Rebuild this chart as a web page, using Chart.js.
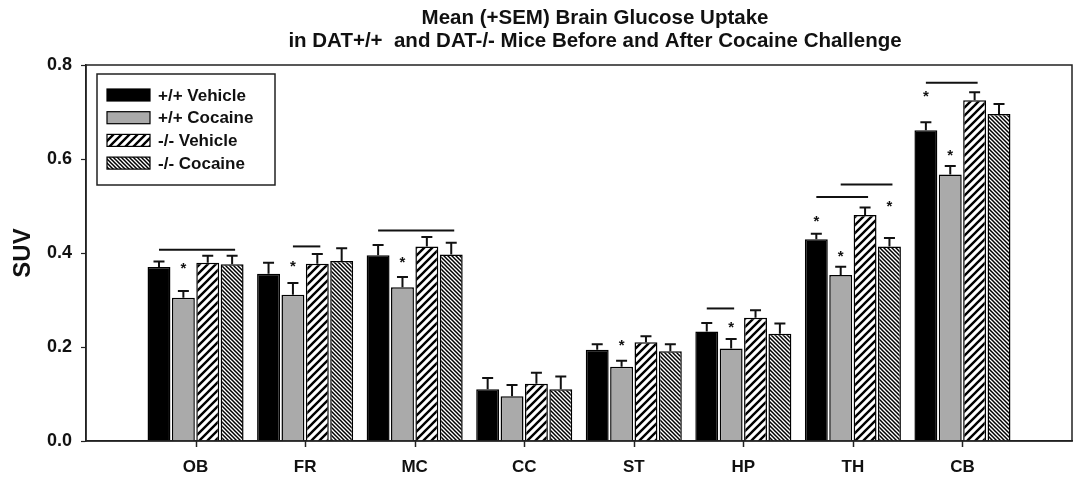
<!DOCTYPE html>
<html>
<head>
<meta charset="utf-8">
<script src="https://cdn.jsdelivr.net/npm/chart.js@4"></script>
<style>
  html, body { margin: 0; padding: 0; background: #fff; }
  #wrap { width: 1074px; height: 481px; }
</style>
</head>
<body>
<div id="wrap"><canvas id="myChart"></canvas></div>
<script>
const regions = ['OB', 'FR', 'MC', 'CC', 'ST', 'HP', 'TH', 'CB'];
const seriesNames = ['+/+ Vehicle', '+/+ Cocaine', '-/- Vehicle', '-/- Cocaine'];

// mean SUV per region
const wtVehicle = [0.370, 0.356, 0.395, 0.110, 0.194, 0.233, 0.429, 0.661];
const wtCocaine = [0.305, 0.311, 0.327, 0.095, 0.158, 0.197, 0.353, 0.567];
const koVehicle = [0.379, 0.377, 0.414, 0.122, 0.210, 0.262, 0.481, 0.725];
const koCocaine = [0.376, 0.383, 0.397, 0.110, 0.191, 0.228, 0.414, 0.696];

// SEM (only drawn upward)
const wtVehicleSem = [0.012, 0.023, 0.022, 0.024, 0.012, 0.018, 0.012, 0.017];
const wtCocaineSem = [0.014, 0.025, 0.022, 0.024, 0.013, 0.020, 0.018, 0.018];
const koVehicleSem = [0.015, 0.021, 0.020, 0.023, 0.013, 0.016, 0.016, 0.017];
const koCocaineSem = [0.018, 0.027, 0.025, 0.027, 0.015, 0.022, 0.018, 0.021];

const yTicks = [0, 0.2, 0.4, 0.6, 0.8];

// asterisks: region, series index, height
const starRegion = ['OB', 'FR', 'MC', 'ST', 'HP', 'TH', 'TH', 'TH', 'CB', 'CB'];
const starSeries = [1, 1, 1, 1, 1, 0, 1, 3, 0, 1];
const starLevel = [0.375, 0.378, 0.388, 0.211, 0.250, 0.474, 0.399, 0.506, 0.740, 0.615];

// comparison lines: region, from series, to series, height
const lineRegion = ['OB', 'FR', 'MC', 'HP', 'TH', 'TH', 'CB'];
const lineFrom = [0, 1, 0, 0, 0, 1, 0];
const lineTo = [3, 2, 3, 1, 2, 3, 2];
const lineLevel = [0.407, 0.414, 0.448, 0.282, 0.519, 0.546, 0.762];

const chartTitle = ['Mean (+SEM) Brain Glucose Uptake',
  'in DAT+/+  and DAT-/- Mice Before and After Cocaine Challenge'];

const FONT = "'Liberation Sans', Arial, sans-serif";

const hatch = (size, width, dir) => {
  const c = document.createElement('canvas');
  c.width = size; c.height = size;
  const g = c.getContext('2d');
  g.fillStyle = '#fff';
  g.fillRect(0, 0, size, size);
  g.strokeStyle = '#000';
  g.lineWidth = width;
  g.beginPath();
  if (dir > 0) {
    g.moveTo(-1, size + 1); g.lineTo(size + 1, -1);
    g.moveTo(-2, 2); g.lineTo(2, -2);
    g.moveTo(size - 2, size + 2); g.lineTo(size + 2, size - 2);
  } else {
    g.moveTo(-1, -1); g.lineTo(size + 1, size + 1);
    g.moveTo(size - 2, -2); g.lineTo(size + 2, 2);
    g.moveTo(-2, size - 2); g.lineTo(2, size + 2);
  }
  g.stroke();
  return g.createPattern(c, 'repeat');
};

const fills = ['#000', '#aaaaaa', hatch(8, 2.4, 1), hatch(4, 1.5, -1)];
const values = [wtVehicle, wtCocaine, koVehicle, koCocaine];
const sems = [wtVehicleSem, wtCocaineSem, koVehicleSem, koCocaineSem];

// one empty slot on each side, like the original axis
const labels = ['', ...regions, ''];
const pad = arr => [null, ...arr, null];

const data = {
  labels: labels,
  datasets: seriesNames.map((name, i) => ({
    label: name,
    data: pad(values[i]),
    backgroundColor: fills[i],
    borderColor: '#000',
    borderWidth: 1.5,
    categoryPercentage: 0.89,
    barPercentage: 0.94,
  }))
};

const barOf = (chart, region, s) => chart.getDatasetMeta(s).data[regions.indexOf(region) + 1];

const extras = {
  id: 'extras',
  beforeDraw(chart) {
    const ctx = chart.ctx;
    ctx.save();
    ctx.fillStyle = '#fff';
    ctx.fillRect(0, 0, chart.width, chart.height);
    ctx.restore();
  },
  afterDatasetsDraw(chart) {
    const ctx = chart.ctx;
    const y = chart.scales.y;
    const x = chart.scales.x;
    ctx.save();
    ctx.strokeStyle = '#111';
    ctx.lineWidth = 2;
    // error bars
    values.forEach((vals, s) => {
      vals.forEach((v, i) => {
        const bar = chart.getDatasetMeta(s).data[i + 1];
        const top = y.getPixelForValue(v + sems[s][i]);
        ctx.beginPath();
        ctx.moveTo(bar.x, bar.y);
        ctx.lineTo(bar.x, top);
        ctx.moveTo(bar.x - 5.5, top);
        ctx.lineTo(bar.x + 5.5, top);
        ctx.stroke();
      });
    });
    // comparison lines
    lineRegion.forEach((r, k) => {
      const a = barOf(chart, r, lineFrom[k]);
      const b = barOf(chart, r, lineTo[k]);
      const py = y.getPixelForValue(lineLevel[k]);
      ctx.beginPath();
      ctx.moveTo(a.x, py);
      ctx.lineTo(b.x + 3, py);
      ctx.stroke();
    });
    // small ticks under each region
    ctx.lineWidth = 1.5;
    ctx.strokeStyle = '#222';
    regions.forEach((r, i) => {
      const px = Math.round(x.getPixelForValue(i + 1)) + 0.5;
      ctx.beginPath();
      ctx.moveTo(px, chart.chartArea.bottom);
      ctx.lineTo(px, chart.chartArea.bottom + 6);
      ctx.stroke();
    });
    // asterisks
    ctx.fillStyle = '#111';
    ctx.font = 'bold 15px ' + FONT;
    ctx.textAlign = 'center';
    ctx.textBaseline = 'alphabetic';
    starRegion.forEach((r, k) => {
      const b = barOf(chart, r, starSeries[k]);
      ctx.fillText('*', b.x, y.getPixelForValue(starLevel[k]) + 8);
    });
    ctx.restore();
  },
  afterDraw(chart) {
    const ctx = chart.ctx;
    const a = chart.chartArea;
    ctx.save();
    // frame
    ctx.strokeStyle = '#222';
    ctx.lineWidth = 1.5;
    ctx.strokeRect(a.left, a.top, a.right - a.left, a.bottom - a.top);

    // legend box
    const lx = a.left + 11, ly = a.top + 9;
    ctx.strokeRect(lx, ly, 178, 111);
    ctx.font = 'bold 17px ' + FONT;
    ctx.textAlign = 'left';
    ctx.textBaseline = 'middle';
    seriesNames.forEach((name, i) => {
      const cy = ly + 21 + i * 22.7;
      ctx.fillStyle = fills[i];
      ctx.fillRect(lx + 10, cy - 6, 43, 12);
      ctx.strokeStyle = '#000';
      ctx.lineWidth = 1.2;
      ctx.strokeRect(lx + 10, cy - 6, 43, 12);
      ctx.fillStyle = '#111';
      ctx.fillText(name, lx + 61, cy + 1);
    });

    // title
    ctx.fillStyle = '#111';
    ctx.font = 'bold 20.5px ' + FONT;
    ctx.textAlign = 'center';
    ctx.textBaseline = 'alphabetic';
    const tx = (a.left + a.right) / 2 + 16;
    ctx.fillText(chartTitle[0], tx, 24);
    ctx.fillText(chartTitle[1], tx, 46.5);
    ctx.restore();
  }
};

const config = {
  type: 'bar',
  data: data,
  options: {
    responsive: true,
    maintainAspectRatio: false,
    animation: false,
    layout: { padding: { top: 65, right: 2, left: 0, bottom: 0 } },
    plugins: {
      legend: { display: false },
      title: { display: false },
      tooltip: { enabled: false }
    },
    scales: {
      x: {
        offset: false,
        afterFit: s => { s.height = 40; s.paddingLeft = 0; s.paddingRight = 0; },
        border: { display: true, color: '#222', width: 1.5 },
        grid: { display: false },
        ticks: {
          autoSkip: false,
          maxRotation: 0,
          padding: 8,
          color: '#111',
          font: { family: FONT, size: 17, weight: 'bold' }
        }
      },
      y: {
        min: 0,
        max: 0.8,
        afterFit: s => { s.width = 86; },
        afterBuildTicks: s => { s.ticks = yTicks.map(v => ({ value: v })); },
        border: { display: true, color: '#222', width: 1.5 },
        grid: { drawOnChartArea: false, tickLength: 5, tickWidth: 1.2, tickColor: '#222' },
        ticks: {
          padding: 9,
          color: '#111',
          font: { family: FONT, size: 18, weight: 'bold' },
          callback: v => v.toFixed(1)
        },
        title: {
          display: true,
          text: 'SUV',
          color: '#111',
          padding: { top: 9, bottom: 0 },
          font: { family: FONT, size: 24, weight: 'bold' }
        }
      }
    }
  },
  plugins: [extras]
};

const myChart = new Chart(document.getElementById('myChart'), config);
</script>
</body>
</html>
